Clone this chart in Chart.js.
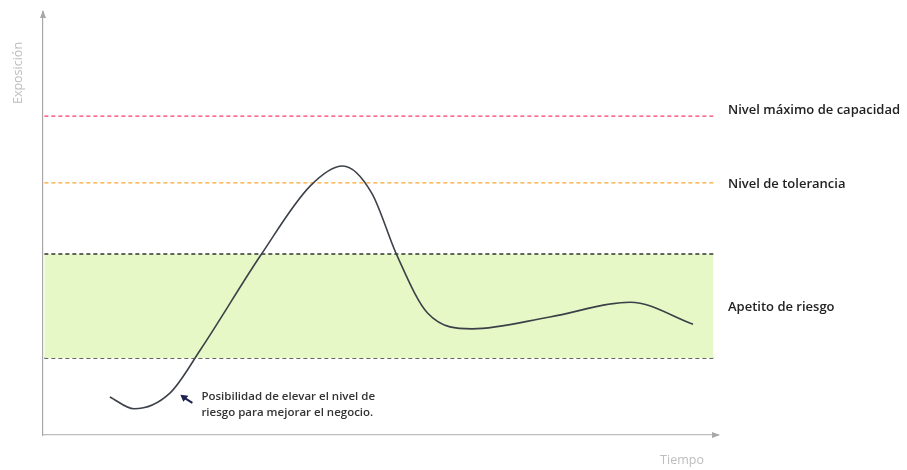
<!DOCTYPE html>
<html>
<head>
<meta charset="utf-8">
<script src="https://cdn.jsdelivr.net/npm/chart.js@4.4.1/dist/chart.umd.min.js"></script>
<style>
  html, body { margin: 0; padding: 0; background: #ffffff; }
  #wrap { width: 907px; height: 470px; }
</style>
</head>
<body>
<div id="wrap"><canvas id="c" width="907" height="470"></canvas></div>
<script>
// ---- data ----
const curveX = [9.9, 13.5, 18.8, 23.3, 32.3, 39.6, 44.4, 48.7, 52.4, 57.0, 63.6, 75.1, 87.0, 96.3];
const curveY = [9.0, 6.2, 9.9, 20.1, 42.6, 58.9, 63.6, 57.2, 42.6, 28.8, 25.1, 27.9, 31.4, 26.2];
const levelNames = ["Nivel máximo de capacidad", "Nivel de tolerancia"];
const levelValues = [75.4, 59.6];
const bandName = "Apetito de riesgo";
const bandTop = 42.8;
const bandBottom = 18.2;
const lineStart = 0.2;
const lineEnd = 99.3;
const xAxisTitle = "Tiempo";
const yAxisTitle = "Exposición";
const noteLines = ["Posibilidad de elevar el nivel de", "riesgo para mejorar el negocio."];
const notePoint = [20.5, 9.5];

const curveData = curveX.map((x, i) => ({ x: x, y: curveY[i] }));
const hline = v => [{ x: lineStart, y: v }, { x: lineEnd, y: v }];

const labelFont = '600 13px "Open Sans", sans-serif';

const annot = {
  id: 'annot',
  afterDraw(chart) {
    const { ctx, chartArea, scales } = chart;
    const xs = scales.x, ys = scales.y;
    ctx.save();
    // axis arrows
    ctx.fillStyle = '#a8a8a8';
    ctx.beginPath();
    ctx.moveTo(chartArea.left, chartArea.top - 2);
    ctx.lineTo(chartArea.left - 3, chartArea.top + 6);
    ctx.lineTo(chartArea.left + 3, chartArea.top + 6);
    ctx.closePath(); ctx.fill();
    ctx.beginPath();
    ctx.moveTo(chartArea.right + 2, chartArea.bottom);
    ctx.lineTo(chartArea.right - 6, chartArea.bottom - 3);
    ctx.lineTo(chartArea.right - 6, chartArea.bottom + 3);
    ctx.closePath(); ctx.fill();

    // axis titles
    ctx.fillStyle = '#bdbdbd';
    ctx.font = '12.5px "Open Sans", sans-serif';
    ctx.textAlign = 'center'; ctx.textBaseline = 'middle';
    ctx.save();
    ctx.translate(18, chartArea.top + 61);
    ctx.rotate(-Math.PI / 2);
    ctx.fillText(yAxisTitle, 0, 0);
    ctx.restore();
    ctx.font = '12.5px "Open Sans", sans-serif';
    ctx.fillText(xAxisTitle, chartArea.right - 36, chartArea.bottom + 25);

    // level labels
    ctx.fillStyle = '#222';
    ctx.font = labelFont;
    ctx.textAlign = 'left';
    const lx = chartArea.right + 10;
    const offs = [-6, 1];
    levelValues.forEach((v, i) => {
      ctx.fillText(levelNames[i], lx, ys.getPixelForValue(v) + offs[i]);
    });
    ctx.fillText(bandName, lx, (ys.getPixelForValue(bandTop) + ys.getPixelForValue(bandBottom)) / 2 + 1);

    // note arrow + text
    const px = xs.getPixelForValue(notePoint[0]);
    const py = ys.getPixelForValue(notePoint[1]);
    ctx.strokeStyle = '#1c2150'; ctx.fillStyle = '#1c2150';
    ctx.lineWidth = 2;
    ctx.beginPath();
    ctx.moveTo(px + 11, py + 8);
    ctx.lineTo(px + 3, py + 3);
    ctx.stroke();
    ctx.beginPath();
    ctx.moveTo(px - 1, py);
    ctx.lineTo(px + 7, py + 1);
    ctx.lineTo(px + 2, py + 7);
    ctx.closePath(); ctx.fill();
    ctx.fillStyle = '#333';
    ctx.font = '600 11.5px "Open Sans", sans-serif';
    ctx.textAlign = 'left';
    ctx.fillText(noteLines[0], px + 20, py + 2);
    ctx.fillText(noteLines[1], px + 20, py + 18);
    ctx.restore();
  }
};

new Chart(document.getElementById('c'), {
  type: 'line',
  data: {
    datasets: [
      { label: 'band-top', data: hline(bandTop), borderColor: '#333', borderWidth: 1.5, borderDash: [4, 3],
        backgroundColor: '#e5f8c6', fill: '+1', pointRadius: 0, order: 3 },
      { label: 'band-bottom', data: hline(bandBottom), borderColor: '#333', borderWidth: 1.5, borderDash: [4, 3],
        fill: false, pointRadius: 0, order: 3 },
      { label: levelNames[0], data: hline(levelValues[0]), borderColor: '#ff3b6b', borderWidth: 1.3, borderDash: [4, 3],
        fill: false, pointRadius: 0, order: 2 },
      { label: levelNames[1], data: hline(levelValues[1]), borderColor: '#f7a531', borderWidth: 1.3, borderDash: [4, 3],
        fill: false, pointRadius: 0, order: 2 },
      { label: 'Exposición', data: curveData, borderColor: '#3c4048', borderWidth: 1.6,
        cubicInterpolationMode: 'monotone', fill: false, pointRadius: 0, order: 1 }
    ]
  },
  options: {
    responsive: false,
    animation: false,
    events: [],
    layout: { padding: { left: 43, right: 189, top: 12, bottom: 35 } },
    plugins: { legend: { display: false }, tooltip: { enabled: false } },
    scales: {
      x: { type: 'linear', min: 0, max: 100,
        ticks: { display: false }, grid: { display: false, drawTicks: false },
        border: { display: true, color: '#bdbdbd', width: 1.2 } },
      y: { type: 'linear', min: 0, max: 100,
        ticks: { display: false }, grid: { display: false, drawTicks: false },
        border: { display: true, color: '#a8a8a8', width: 1.2 } }
    }
  },
  plugins: [annot]
});
</script>
</body>
</html>
